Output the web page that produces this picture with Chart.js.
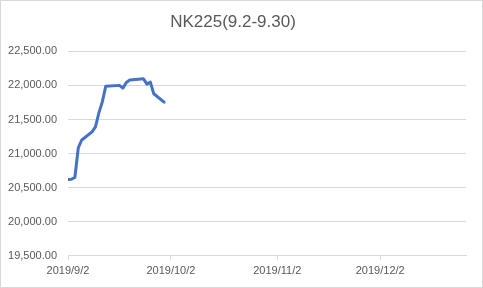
<!DOCTYPE html>
<html>
<head>
<meta charset="utf-8">
<script src="https://cdn.jsdelivr.net/npm/chart.js@4/dist/chart.umd.min.js"></script>
<style>
html,body{margin:0;padding:0;background:#fff;}
#wrap{width:483px;height:288px;position:relative;}
</style>
</head>
<body>
<div id="wrap"><canvas id="c" width="483" height="288"></canvas></div>
<script>
// Data
const dates = ["2019/9/2","2019/9/3","2019/9/4","2019/9/5","2019/9/6","2019/9/9","2019/9/10","2019/9/11","2019/9/12","2019/9/13","2019/9/17","2019/9/18","2019/9/19","2019/9/20","2019/9/24","2019/9/25","2019/9/26","2019/9/27","2019/9/30"];
const closes = [20620.19,20625.16,20649.14,21085.94,21199.57,21318.42,21392.10,21597.76,21759.61,21988.29,22001.32,21960.71,22044.45,22079.09,22098.84,22020.15,22048.24,21878.90,21755.84];
const xTickLabels = ["2019/9/2","2019/10/2","2019/11/2","2019/12/2"];
const axisEnd = "2019/12/27";
const yMin = 19500, yMax = 22500, yStep = 500;
const title = "NK225(9.2-9.30)";

function dayNum(s){const p=s.split('/').map(Number);return Date.UTC(p[0],p[1]-1,p[2])/86400000;}
const base = dayNum(dates[0]);
const pts = dates.map((d,i)=>({x:dayNum(d)-base,y:closes[i]}));
const xTicks = xTickLabels.map(d=>dayNum(d)-base);
const labelMap = {}; xTickLabels.forEach((l,i)=>labelMap[xTicks[i]]=l);

const FONT = "'Liberation Sans', Arial, sans-serif";
const TXT = "#595959", GRID = "#d9d9d9";

const borderPlugin = {
  id:'frame',
  beforeDraw(chart){
    const ctx=chart.ctx; ctx.save();
    ctx.fillStyle='#fff'; ctx.fillRect(0,0,chart.width,chart.height);
    ctx.strokeStyle=GRID; ctx.lineWidth=1;
    ctx.strokeRect(0.5,0.5,chart.width-1,chart.height-1);
    ctx.restore();
  }
};

new Chart(document.getElementById('c'),{
  type:'line',
  data:{datasets:[{data:pts,borderColor:'#4472C4',borderWidth:3,pointRadius:0,tension:0,fill:false,borderJoinStyle:'round',borderCapStyle:'round'}]},
  options:{
    responsive:false,animation:false,
    layout:{padding:{left:0,right:17,top:0,bottom:5}},
    plugins:{
      legend:{display:false},tooltip:{enabled:false},
      title:{display:true,text:title,color:TXT,font:{family:FONT,size:17,weight:'normal'},padding:{top:12,bottom:19}}
    },
    scales:{
      x:{type:'linear',min:0,max:dayNum(axisEnd)-base,
        afterBuildTicks(ax){ax.ticks=xTicks.map(v=>({value:v}));},
        ticks:{callback:v=>labelMap[v]||'',color:TXT,font:{family:FONT,size:11},maxRotation:0,autoSkip:false,padding:5},
        grid:{drawOnChartArea:false,drawTicks:true,tickLength:4,color:GRID},
        border:{display:true,color:GRID}
      },
      y:{min:yMin,max:yMax,
        ticks:{stepSize:yStep,color:TXT,font:{family:FONT,size:11},padding:11,
          callback:v=>v.toLocaleString('en-US',{minimumFractionDigits:2,maximumFractionDigits:2})},
        grid:{color:GRID,drawTicks:false},
        border:{display:false},
        afterFit(ax){ax.width=68;}
      }
    }
  },
  plugins:[borderPlugin]
});
</script>
</body>
</html>
